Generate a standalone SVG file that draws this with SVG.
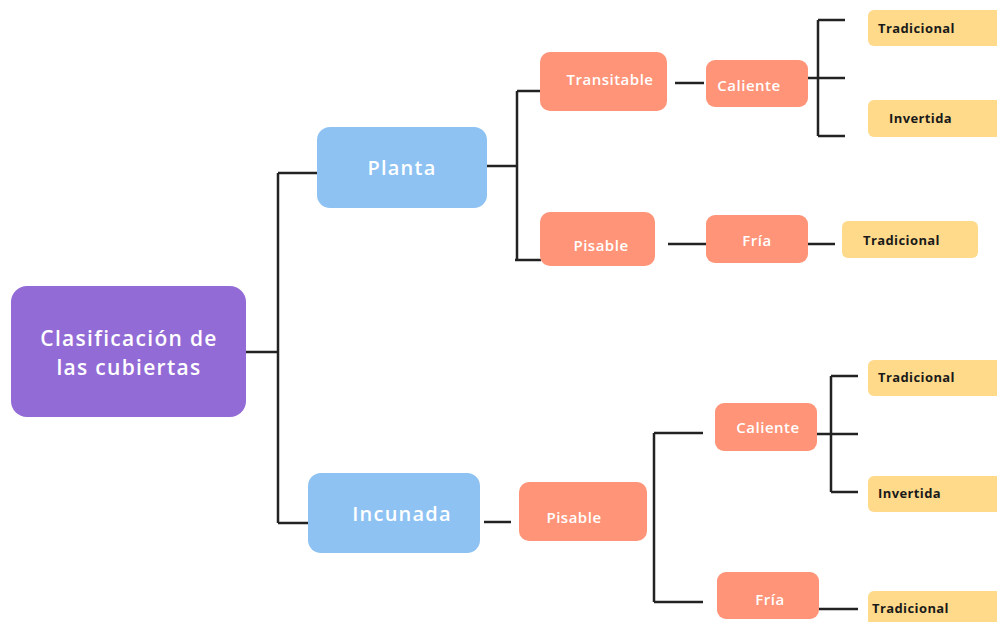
<svg xmlns="http://www.w3.org/2000/svg" width="997" height="622" viewBox="0 0 997 622">
<style>
.root{fill:#936BD6}
.l1{fill:#8DC2F3}
.l2{fill:#FF9478}
.l3{fill:#FFDA8A}
.tw{fill:#fff;font-family:"Open Sans","Noto Sans",sans-serif;font-weight:600;text-anchor:middle}
.big{font-size:21px;letter-spacing:1.3px}
.mid{font-size:20px;letter-spacing:1.2px}
.sm{font-size:15px;letter-spacing:0.5px}
.tb{fill:#1a1a1a;font-family:"Open Sans","Noto Sans",sans-serif;font-weight:700;font-size:13px;letter-spacing:0.4px}
.c{fill:none;stroke:#222;stroke-width:2.5}
</style>
<rect width="997" height="622" fill="#fff"/>
<g id="connectors">
<path class="c" d="M246 352H278M278 173V523M278 173H317M278 523H308"/>
<path class="c" d="M487 166H517M517 91V260M517 91H540M515 260H541"/>
<path class="c" d="M675 83H704"/>
<path class="c" d="M808 78H845M818 20V136M818 20H845M818 136H845"/>
<path class="c" d="M668 244H706M808 244H835"/>
<path class="c" d="M484 522H511"/>
<path class="c" d="M654 433V602M654 433H703M654 602H703"/>
<path class="c" d="M817 434H858M831 376V492M831 376H858M831 492H858"/>
<path class="c" d="M819 609H858"/>
</g>
<g id="root">
<rect class="root" x="11" y="286" width="235" height="131" rx="16"/>
<text class="tw big" x="129" y="346">Clasificación de</text>
<text class="tw big" x="129" y="375">las cubiertas</text>
</g>
<g id="planta">
<rect class="l1" x="317" y="127" width="170" height="81" rx="13"/>
<text class="tw mid" x="402" y="175">Planta</text>
</g>
<g id="incunada">
<rect class="l1" x="308" y="473" width="172" height="80" rx="13"/>
<text class="tw mid" x="402" y="521">Incunada</text>
</g>
<g id="transitable">
<rect class="l2" x="540" y="52" width="127" height="59" rx="10"/>
<text class="tw sm" x="610" y="85">Transitable</text>
</g>
<g id="caliente1">
<rect class="l2" x="706" y="60" width="102" height="47" rx="9"/>
<text class="tw sm" x="749" y="91">Caliente</text>
</g>
<g id="tradicional1">
<rect class="l3" x="868" y="10" width="140" height="36" rx="6"/>
<text class="tb" x="878" y="33">Tradicional</text>
</g>
<g id="invertida1">
<rect class="l3" x="868" y="100" width="140" height="37" rx="6"/>
<text class="tb" x="889" y="123">Invertida</text>
</g>
<g id="pisable1">
<rect class="l2" x="540" y="212" width="115" height="54" rx="10"/>
<text class="tw sm" x="601" y="251">Pisable</text>
</g>
<g id="fria1">
<rect class="l2" x="706" y="215" width="102" height="48" rx="9"/>
<text class="tw sm" x="757" y="246">Fría</text>
</g>
<g id="tradicional2">
<rect class="l3" x="842" y="221" width="136" height="37" rx="6"/>
<text class="tb" x="863" y="245">Tradicional</text>
</g>
<g id="pisable2">
<rect class="l2" x="519" y="482" width="128" height="59" rx="10"/>
<text class="tw sm" x="574" y="523">Pisable</text>
</g>
<g id="caliente2">
<rect class="l2" x="715" y="403" width="102" height="48" rx="9"/>
<text class="tw sm" x="768" y="433">Caliente</text>
</g>
<g id="tradicional3">
<rect class="l3" x="868" y="360" width="140" height="36" rx="6"/>
<text class="tb" x="878" y="382">Tradicional</text>
</g>
<g id="invertida2">
<rect class="l3" x="868" y="476" width="140" height="36" rx="6"/>
<text class="tb" x="878" y="498">Invertida</text>
</g>
<g id="fria2">
<rect class="l2" x="717" y="572" width="102" height="47" rx="9"/>
<text class="tw sm" x="770" y="605">Fría</text>
</g>
<g id="tradicional4">
<rect class="l3" x="868" y="591" width="140" height="40" rx="6"/>
<text class="tb" x="872" y="613">Tradicional</text>
</g>
</svg>
